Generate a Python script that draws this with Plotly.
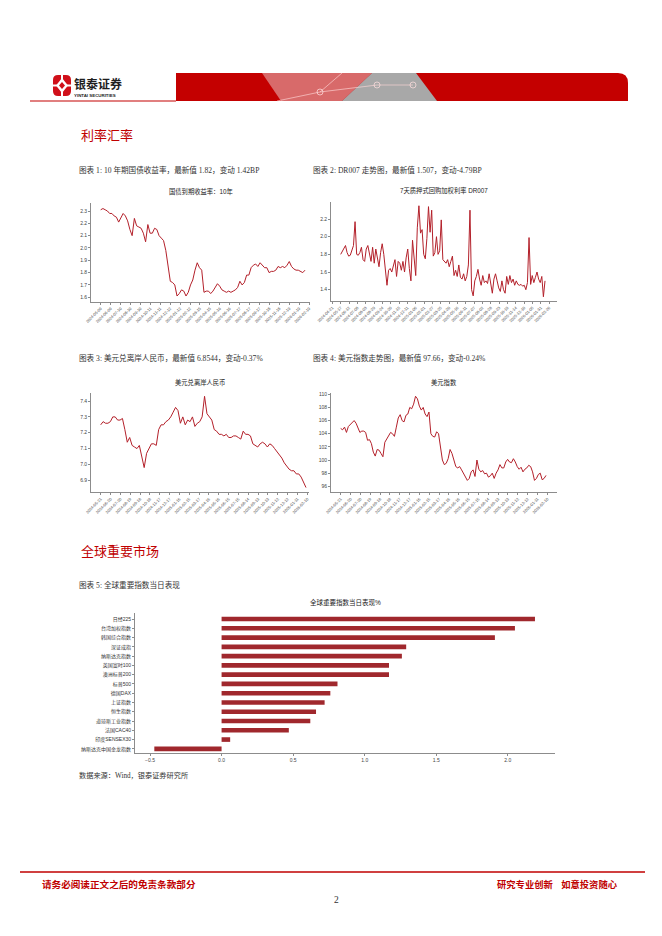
import plotly.graph_objects as go
import pandas as pd

W, H = 662, 936
RED = "#c00000"
LINE_RED = "#b3202a"
BAR_RED = "#a0282d"
AXIS = "#8c8c8c"
SANS = "Liberation Sans, Noto Sans CJK SC"
SERIF = "Liberation Serif, Noto Sans CJK SC"


def px(x):
    return x / W


def py(y):
    return 1 - y / H


# ---------------- data ----------------
bond_start, bond_end = "2024-05-09", "2026-02-06"
bond_10y = [2.31, 2.32, 2.31, 2.30, 2.28, 2.28, 2.26, 2.25, 2.21, 2.25,
            2.28, 2.26, 2.22, 2.15, 2.10, 2.24, 2.18, 2.17, 2.16, 2.12,
            2.05, 2.19, 2.12, 2.12, 2.16, 2.15, 2.10, 2.08, 2.06, 1.98,
            1.86, 1.73, 1.72, 1.70, 1.61, 1.63, 1.66, 1.65, 1.61, 1.64,
            1.70, 1.74, 1.82, 1.88, 1.84, 1.82, 1.64, 1.65, 1.65, 1.63,
            1.65, 1.68, 1.71, 1.69, 1.66, 1.65, 1.64, 1.65, 1.64, 1.65,
            1.66, 1.68, 1.73, 1.70, 1.72, 1.78, 1.78, 1.84, 1.86, 1.87,
            1.85, 1.88, 1.86, 1.84, 1.84, 1.80, 1.81, 1.81, 1.82, 1.85,
            1.84, 1.85, 1.84, 1.86, 1.89, 1.85, 1.83, 1.82, 1.82, 1.81,
            1.80, 1.82]

dr_start, dr_end = "2024-05-17", "2026-02-13"
dr007 = [1.80, 1.83, 1.86, 1.90, 1.82, 1.78, 1.79, 1.84, 1.90, 2.17,
         1.80, 1.79, 1.82, 1.88, 1.74, 1.72, 1.86, 1.90, 1.80, 1.72,
         1.88, 1.70, 1.86, 1.76, 1.66, 1.82, 1.92, 1.80, 1.62, 1.45,
         1.62, 1.64, 1.60, 1.68, 1.74, 1.55, 1.72, 1.70, 1.62, 1.72,
         1.60, 1.76, 1.86, 1.64, 1.50, 1.96, 1.70, 1.56, 2.10, 2.35,
         2.04, 2.08, 1.80, 1.75, 1.98, 2.34, 2.05, 2.30, 1.78, 1.82,
         2.00, 1.80, 1.84, 2.19, 1.74, 1.72, 1.70, 1.74, 1.66, 1.72,
         1.78, 1.56, 1.62, 1.55, 1.68, 1.54, 1.52, 1.58, 1.50, 1.55,
         1.68, 2.30, 1.40, 1.33, 1.50, 1.55, 1.63, 1.52, 1.45, 1.56,
         1.48, 1.50, 1.47, 1.58, 1.46, 1.36, 1.52, 1.58, 1.50, 1.42,
         1.38, 1.50, 1.40, 1.36, 1.55, 1.46, 1.56, 1.48, 1.52, 1.45,
         1.50, 1.46, 1.45, 1.46, 1.44, 1.45, 1.40, 1.48, 1.99, 1.46,
         1.56, 1.48, 1.54, 1.60, 1.52, 1.48, 1.55, 1.32, 1.50]

cnh_start, cnh_end = "2024-05-21", "2026-02-06"
usdcnh = [7.25, 7.27, 7.26, 7.26, 7.27, 7.30, 7.30, 7.28, 7.28, 7.29,
          7.22, 7.14, 7.17, 7.12, 7.11, 7.10, 7.12, 7.05, 6.98, 7.07,
          7.10, 7.13, 7.13, 7.12, 7.22, 7.25, 7.25, 7.27, 7.28, 7.30,
          7.33, 7.36, 7.34, 7.26, 7.30, 7.25, 7.28, 7.27, 7.30, 7.24,
          7.26, 7.27, 7.30, 7.43, 7.32, 7.30, 7.28, 7.22, 7.21, 7.19,
          7.19, 7.18, 7.19, 7.17, 7.17, 7.18, 7.18, 7.17, 7.16, 7.21,
          7.19, 7.19, 7.18, 7.13, 7.12, 7.11, 7.13, 7.14, 7.13, 7.11,
          7.13, 7.12, 7.10, 7.08, 7.06, 7.04, 7.01, 6.99, 6.97, 6.96,
          6.96, 6.94, 6.94, 6.92, 6.89, 6.854]

dxy_start, dxy_end = "2024-05-21", "2026-02-06"
dxy = [104.8, 104.6, 105.0, 104.2, 105.1, 105.4, 105.8, 106.0, 105.6, 105.0,
       104.2, 104.4, 104.4, 104.2, 103.0, 103.1, 102.5, 101.2, 100.6, 101.6,
       101.5, 101.0, 100.5, 102.7, 103.2, 103.7, 104.2, 104.0, 103.6, 105.0,
       106.4, 106.9, 106.0, 105.8, 106.8, 107.0, 108.0, 107.8, 108.5, 109.7,
       109.3, 108.2, 107.6, 108.0, 107.0, 106.6, 107.3, 104.0, 103.6, 103.5,
       104.3, 104.0, 102.0, 100.0, 99.3, 99.5, 100.2, 101.6, 101.0, 100.0,
       99.0, 98.8, 99.0, 98.5, 98.0, 97.6, 96.9, 97.2, 98.2, 98.5,
       97.5, 100.0, 98.6, 98.2, 98.4, 97.9, 98.0, 97.4, 97.6, 98.0,
       97.2, 98.0, 98.5, 99.3, 98.8, 98.8, 99.7, 100.1, 99.7, 99.6,
       100.2, 99.7, 99.0, 98.6, 98.9, 98.2, 98.6, 98.8, 99.2, 99.0,
       98.2, 96.9, 97.2, 97.8, 98.0, 97.0, 97.2, 97.66]

index_names = ["日经225", "台湾加权指数", "韩国综合指数", "深证成指", "纳斯达克指数",
               "英国富时100", "澳洲标普200", "标普500", "德国DAX", "上证指数",
               "恒生指数", "道琼斯工业指数", "法国CAC40", "印度SENSEX30", "纳斯达克中国金龙指数"]
index_pct = [2.19, 2.05, 1.91, 1.29, 1.26, 1.17, 1.17, 0.81, 0.76, 0.72,
             0.66, 0.62, 0.47, 0.06, -0.47]

# ---------------- figure ----------------
fig = go.Figure()
layout = {}
annotations = []
shapes = []


def axname(i):
    return ("x", "y") if i == 1 else (f"x{i}", f"y{i}")


def add_ts(i, start, end, values, ax_l, ax_r, d_l, d_r, top, bottom,
           yrange, ydtick, yfmt, tick_days, title):
    xa, ya = axname(i)
    dates = pd.date_range(start, end, periods=len(values))
    s, e = pd.Timestamp(start), pd.Timestamp(end)
    span = e - s
    dpx = d_r - d_l
    r0 = s - span * ((d_l - ax_l) / dpx)
    r1 = e + span * ((ax_r - d_r) / dpx)
    fig.add_trace(go.Scatter(x=dates, y=values, mode="lines",
                             line=dict(color=LINE_RED, width=1),
                             xaxis=xa, yaxis=ya, showlegend=False,
                             hoverinfo="skip"))
    layout["xaxis" if i == 1 else f"xaxis{i}"] = dict(
        domain=[px(ax_l), px(ax_r)], anchor=ya, type="date", automargin=False,
        range=[r0.isoformat(), r1.isoformat()], tick0=s.isoformat(),
        dtick=tick_days * 86400000, tickformat="%Y-%m-%d", tickangle=-45,
        tickfont=dict(size=4, family=SANS, color="#444"),
        showline=True, linecolor=AXIS, linewidth=0.8, ticks="outside",
        ticklen=2, tickcolor=AXIS, showgrid=False, zeroline=False)
    layout["yaxis" if i == 1 else f"yaxis{i}"] = dict(
        domain=[py(bottom), py(top)], anchor=xa, range=yrange, automargin=False,
        dtick=ydtick, tickformat=yfmt,
        tickfont=dict(size=5, family=SANS, color="#444"),
        showline=True, linecolor=AXIS, linewidth=0.8, ticks="outside",
        ticklen=2, tickcolor=AXIS, showgrid=False, zeroline=False)
    annotations.append(dict(text=title, x=px((ax_l + ax_r) / 2), y=py(top - 11),
                            xref="paper", yref="paper", showarrow=False,
                            xanchor="center", yanchor="middle",
                            font=dict(size=6.3, family=SANS, color="#222")))


add_ts(1, bond_start, bond_end, bond_10y, 91, 310, 100.7, 305, 203, 301.7,
       [1.564, 2.365], 0.1, ".1f", 31, "国债到期收益率：10年")
add_ts(2, dr_start, dr_end, dr007, 331, 556.7, 340.7, 545, 201.7, 301,
       [1.272, 2.396], 0.2, ".1f", 26, "7天质押式回购加权利率 DR007")
add_ts(3, cnh_start, cnh_end, usdcnh, 91, 309, 100.7, 306, 393.3, 492.3,
       [6.824, 7.449], 0.1, ".1f", 30, "美元兑离岸人民币")
add_ts(4, dxy_start, dxy_end, dxy, 331, 556.7, 340.7, 546, 393.3, 492.3,
       [95.09, 110.15], 2, "d", 30, "美元指数")

# bar chart
fig.add_trace(go.Bar(x=index_pct, y=index_names, orientation="h",
                     marker=dict(color=BAR_RED, line=dict(width=0)),
                     width=0.5, xaxis="x5", yaxis="y5", showlegend=False,
                     hoverinfo="skip"))
layout["xaxis5"] = dict(domain=[px(135), px(555)], anchor="y5", automargin=False,
                        range=[-0.605, 2.33], dtick=0.5, tick0=0, tickformat=".1f",
                        tickfont=dict(size=5, family=SANS, color="#444"),
                        showline=True, linecolor=AXIS, linewidth=0.8,
                        ticks="outside", ticklen=2, tickcolor=AXIS,
                        showgrid=False, zeroline=False)
layout["yaxis5"] = dict(domain=[py(753), py(613)], anchor="x5", automargin=False,
                        type="category", categoryorder="array",
                        categoryarray=index_names,
                        range=[len(index_names) - 1 + 0.45, -0.65],
                        tickfont=dict(size=5, family=SANS, color="#333"),
                        showline=True, linecolor=AXIS, linewidth=0.8,
                        ticks="outside", ticklen=2, tickcolor=AXIS,
                        showgrid=False, zeroline=False)
annotations.append(dict(text="全球重要指数当日表现%", x=px(345), y=py(602),
                        xref="paper", yref="paper", showarrow=False,
                        xanchor="center", yanchor="middle",
                        font=dict(size=6.5, family=SANS, color="#222")))


# ---------------- page decoration ----------------
def path(points, close=True):
    d = ""
    for cmd, pts in points:
        d += cmd + " ".join(f"{px(a):.5f},{py(b):.5f}" for a, b in pts) + " "
    if close:
        d += "Z"
    return d


def add_text(text, x, y, size, color, family=SANS, anchor="left"):
    annotations.append(dict(text=text, x=px(x), y=py(y), xref="paper", yref="paper",
                            showarrow=False, xanchor=anchor, yanchor="middle",
                            font=dict(size=size, family=family, color=color)))


# banner
shapes.append(dict(type="path", xref="paper", yref="paper", line=dict(width=0),
                   fillcolor="#c40000",
                   path=path([("M", [(176, 73)]), ("L", [(618, 73)]),
                              ("Q", [(628, 73), (628, 83)]), ("L", [(628, 101)]),
                              ("L", [(176, 101)])])))
shapes.append(dict(type="path", xref="paper", yref="paper", line=dict(width=0),
                   fillcolor="#d86a6a",
                   path=path([("M", [(262, 73)]), ("L", [(372, 73)]),
                              ("L", [(342, 101)]), ("L", [(281, 101)])])))
shapes.append(dict(type="path", xref="paper", yref="paper", line=dict(width=0),
                   fillcolor="#a8a8a8",
                   path=path([("M", [(372, 73)]), ("L", [(416, 73)]),
                              ("L", [(437, 101)]), ("L", [(342, 101)])])))
for (a, b), (c, d) in [((277, 101), (320, 92)), ((320, 92), (342, 73)),
                       ((320, 92), (377, 85)), ((377, 85), (413, 85))]:
    shapes.append(dict(type="line", xref="paper", yref="paper",
                       x0=px(a), y0=py(b), x1=px(c), y1=py(d),
                       line=dict(color="rgba(255,215,215,0.8)", width=0.8)))
for cx, cy in [(320, 92), (377, 85), (413, 85)]:
    shapes.append(dict(type="circle", xref="paper", yref="paper",
                       x0=px(cx - 3), x1=px(cx + 3), y0=py(cy + 3), y1=py(cy - 3),
                       line=dict(color="rgba(255,225,225,0.9)", width=0.8)))
# logo underline
shapes.append(dict(type="line", xref="paper", yref="paper",
                   x0=px(30), x1=px(176), y0=py(101), y1=py(101),
                   line=dict(color="#c40000", width=1.2)))
# logo icon
shapes.append(dict(type="path", xref="paper", yref="paper", line=dict(width=0),
                   fillcolor="#d0101a",
                   path=path([("M", [(58, 75)]), ("L", [(66, 75)]),
                              ("Q", [(71, 75), (71, 80)]), ("L", [(71, 91)]),
                              ("Q", [(71, 96), (66, 96)]), ("L", [(58, 96)]),
                              ("Q", [(53, 96), (53, 91)]), ("L", [(53, 80)]),
                              ("Q", [(53, 75), (58, 75)])])))
shapes.append(dict(type="path", xref="paper", yref="paper", line=dict(width=0),
                   fillcolor="white",
                   path=path([("M", [(62, 78)]), ("L", [(68, 85.5)]),
                              ("L", [(62, 93)]), ("L", [(56, 85.5)])])))
for (a, b, c, d) in [(61, 75, 63, 79), (61, 92, 63, 96), (53, 84.5, 57, 86.5),
                     (67, 84.5, 71, 86.5)]:
    shapes.append(dict(type="rect", xref="paper", yref="paper", line=dict(width=0),
                       fillcolor="white", x0=px(a), x1=px(c), y0=py(d), y1=py(b)))
shapes.append(dict(type="path", xref="paper", yref="paper", line=dict(width=0),
                   fillcolor="#d0101a",
                   path=path([("M", [(62, 82)]), ("L", [(65, 85.5)]),
                              ("L", [(62, 89)]), ("L", [(59, 85.5)])])))

add_text("<b>银泰证券</b>", 72, 83.5, 12, "#1e1e1e", family="Noto Sans CJK SC")
add_text("<b>YINTAI SECURITIES</b>", 72, 96, 4.4, "#1e1e1e")

# section titles
add_text("利率汇率", 79, 135, 13, RED, family="Noto Sans CJK SC")
add_text("全球重要市场", 79, 550, 13, RED, family="Noto Sans CJK SC")

# captions
add_text("图表 1: 10 年期国债收益率，最新值 1.82，变动 1.42BP", 77, 170, 7.6, "#333", SERIF)
add_text("图表 2: DR007 走势图，最新值 1.507，变动-4.79BP", 311, 170, 7.6, "#333", SERIF)
add_text("图表 3: 美元兑离岸人民币，最新值 6.8544，变动-0.37%", 77, 358, 7.6, "#333", SERIF)
add_text("图表 4: 美元指数走势图，最新值 97.66，变动-0.24%", 311, 358, 7.6, "#333", SERIF)
add_text("图表 5: 全球重要指数当日表现", 77, 585, 7.6, "#333", SERIF)
add_text("数据来源：Wind，银泰证券研究所", 77, 775, 7.2, "#333", SERIF)

# footer
shapes.append(dict(type="line", xref="paper", yref="paper",
                   x0=px(20), x1=px(645), y0=py(872), y1=py(872),
                   line=dict(color="#c00000", width=1.3)))
add_text("<b>请务必阅读正文之后的免责条款部分</b>", 40, 884, 9.6, RED, family="Noto Sans CJK SC")
add_text("<b>研究专业创新    如意投资随心</b>", 620, 884, 9.3, RED,
         family="Noto Sans CJK SC", anchor="right")
add_text("2", 336, 900, 9.5, "#333", SERIF, anchor="center")

fig.update_layout(width=W, height=H,
                  margin=dict(l=0, r=0, t=0, b=0, pad=0, autoexpand=False),
                  paper_bgcolor="white", plot_bgcolor="white",
                  showlegend=False, bargap=0.5,
                  annotations=annotations, shapes=shapes, **layout)

fig.write_html("out.html", config={"displayModeBar": False},
               post_script="document.body.style.margin='0';")
